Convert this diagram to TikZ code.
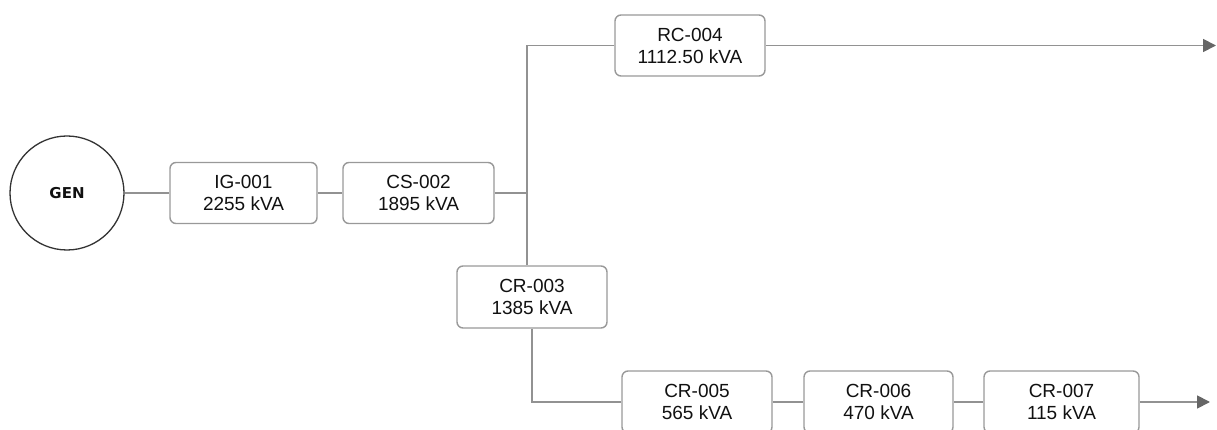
\documentclass[tikz,border=0pt]{standalone}
\usepackage{fontspec}
\setmainfont{Liberation Sans}
\newfontfamily\genfont{DejaVu Sans}
\usetikzlibrary{arrows.meta}
\definecolor{boxline}{HTML}{999999}
\definecolor{wire}{HTML}{929292}
\definecolor{tip}{HTML}{666666}
\definecolor{txt}{HTML}{111111}
\tikzset{
  unit/.style={draw=boxline, line width=1.4pt, rounded corners=6pt, fill=white,
    minimum height=61pt, inner sep=0pt, align=center, text=txt,
    font=\fontsize{19}{22}\selectfont},
  gen/.style={circle, draw=black!80, line width=1.3pt, minimum size=114pt, inner sep=0pt,
    font=\genfont\bfseries\fontsize{15}{17}\selectfont, text=txt},
  wirestyle/.style={draw=wire, line width=1.8pt},
  feed/.style={wirestyle, -{Triangle[length=13pt,width=13pt,color=tip]}}
}
\begin{document}
\begin{tikzpicture}[x=1pt,y=-1pt]
\useasboundingbox (0,0) rectangle (1217,430);
\node[gen] (gen) at (67,193) {GEN};
\node[unit, minimum width=147pt] (ig) at (243.5,193) {IG-001\\2255 kVA};
\node[unit, minimum width=151pt] (cs) at (418.5,193) {CS-002\\1895 kVA};
\coordinate (j) at (527,193);
\node[unit, minimum width=150pt] (rc) at (690,45.5) {RC-004\\1112.50 kVA};
\node[unit, minimum width=150pt, minimum height=62pt] (cr3) at (532,297) {CR-003\\1385 kVA};
\node[unit, minimum width=150pt, minimum height=62pt] (cr5) at (697,402) {CR-005\\565 kVA};
\node[unit, minimum width=149pt, minimum height=62pt] (cr6) at (878.5,402) {CR-006\\470 kVA};
\node[unit, minimum width=155pt, minimum height=62pt] (cr7) at (1061.5,402) {CR-007\\115 kVA};
\coordinate (topend) at (1216,45.5);
\coordinate (botend) at (1210,402);
\coordinate (jtop) at (527,45.5);

\draw[wirestyle] (gen.east) -- (ig.west);
\draw[wirestyle] (ig.east) -- (cs.west);
\draw[wirestyle] (cs.east) -- (j);
\draw[wirestyle] (rc.west) -- (jtop) -- (j |- cr3.north);
\draw[feed] (rc.east) -- (topend);
\draw[wirestyle] (cr3.south) |- (cr5.west);
\draw[wirestyle] (cr5.east) -- (cr6.west);
\draw[wirestyle] (cr6.east) -- (cr7.west);
\draw[feed] (cr7.east) -- (botend);
\end{tikzpicture}
\end{document}
